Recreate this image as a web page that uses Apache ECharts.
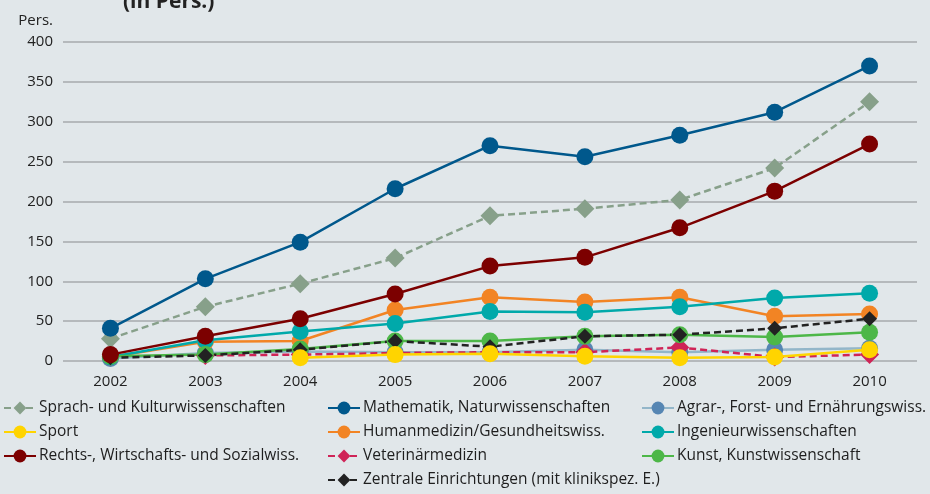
<!DOCTYPE html>
<html>
<head>
<meta charset="utf-8">
<script src="https://cdn.jsdelivr.net/npm/echarts@6/dist/echarts.min.js"></script>
<style>
  html, body { margin: 0; padding: 0; background: #e1e7ea; }
  #chart { width: 930px; height: 494px; }
</style>
</head>
<body>
<div id="chart"></div>
<script>
// Years on the x axis
const years = ['2002', '2003', '2004', '2005', '2006', '2007', '2008', '2009', '2010'];

// Persons per subject group and year
const sprachKultur   = [28, 68, 97, 129, 182, 191, 202, 242, 325];
const mathematik     = [41, 103, 149, 216, 270, 256, 283, 312, 370];
const agrar          = [3, 10, 12, 11, 11, 14, 11, 14, 16];
const sport          = [null, null, 4, 8, 9, 6, 4, 5, 14];
const humanmedizin   = [5, 24, 25, 64, 80, 74, 80, 56, 59];
const ingenieur      = [5, 26, 37, 47, 62, 61, 68, 79, 85];
const rechtsWiSo     = [8, 31, 53, 84, 119, 130, 167, 213, 272];
const veterinaer     = [null, 7, 8, 10, 11, 11, 17, 5, 8];
const kunst          = [6, 8, 15, 25, 25, 31, 33, 30, 36];
const zentrale       = [4, 7, 14, 25, 18, 31, 33, 41, 53];

// Y axis ticks
const yMax = 400;
const yStep = 50;

const FONT = 'Open Sans';

function line(name, data, color, opts) {
  opts = opts || {};
  return {
    name: name,
    type: 'line',
    data: data,
    symbol: opts.symbol || 'circle',
    symbolSize: opts.symbolSize || 17,
    connectNulls: false,
    itemStyle: { color: color },
    lineStyle: {
      color: opts.lineColor || color,
      width: 2.5,
      type: opts.dashed ? [7, 4] : 'solid'
    },
    emphasis: { disabled: true },
    z: opts.z || 2
  };
}

const series = [
  line('Sprach- und Kulturwissenschaften', sprachKultur, '#87a08a', { symbol: 'diamond', symbolSize: 19, dashed: true }),
  line('Mathematik, Naturwissenschaften', mathematik, '#00588c'),
  line('Agrar-, Forst- und Ernährungswiss.', agrar, '#5686b3', { lineColor: '#93b6c9' }),
  line('Sport', sport, '#ffd400', { z: 4 }),
  line('Humanmedizin/Gesundheitswiss.', humanmedizin, '#f28424'),
  line('Ingenieurwissenschaften', ingenieur, '#00a9aa'),
  line('Rechts-, Wirtschafts- und Sozialwiss.', rechtsWiSo, '#7c0000', { z: 3 }),
  line('Veterinärmedizin', veterinaer, '#cf2457', { symbol: 'diamond', symbolSize: 19, dashed: true }),
  line('Kunst, Kunstwissenschaft', kunst, '#4db748'),
  line('Zentrale Einrichtungen (mit klinikspez. E.)', zentrale, '#222222', { symbol: 'diamond', symbolSize: 15, dashed: true })
];

function legendCol(left, names) {
  return {
    orient: 'vertical',
    left: left,
    top: 400,
    itemWidth: 32,
    itemHeight: 16,
    itemGap: 8,
    padding: 0,
    data: names,
    selectedMode: false,
    textStyle: { fontFamily: FONT, fontSize: 15.5, color: '#1e1e1e', padding: [0, 0, 0, -2] }
  };
}

const chart = echarts.init(document.getElementById('chart'));
chart.setOption({
  backgroundColor: '#e1e7ea',
  animation: false,
  textStyle: { fontFamily: FONT },
  graphic: [{
    type: 'text',
    left: 123,
    top: -8,
    style: { text: '(in Pers.)', fontFamily: FONT, fontWeight: 'bold', fontSize: 21, fill: '#222' }
  }],
  grid: { left: 63, right: 13, top: 42, bottom: 133 },
  legend: [
    legendCol(3, ['Sprach- und Kulturwissenschaften', 'Sport', 'Rechts-, Wirtschafts- und Sozialwiss.']),
    legendCol(327, ['Mathematik, Naturwissenschaften', 'Humanmedizin/Gesundheitswiss.', 'Veterinärmedizin', 'Zentrale Einrichtungen (mit klinikspez. E.)']),
    legendCol(641, ['Agrar-, Forst- und Ernährungswiss.', 'Ingenieurwissenschaften', 'Kunst, Kunstwissenschaft'])
  ],
  xAxis: {
    type: 'category',
    data: years,
    boundaryGap: true,
    axisLine: { show: false },
    axisTick: { show: false },
    axisLabel: { fontFamily: FONT, fontSize: 15, color: '#222', margin: 13 }
  },
  yAxis: {
    type: 'value',
    min: 0,
    max: yMax,
    interval: yStep,
    name: 'Pers.',
    nameLocation: 'end',
    nameGap: 14,
    nameTextStyle: { fontFamily: FONT, fontSize: 15, color: '#222', align: 'right', padding: [0, 10, 0, 0] },
    axisLine: { show: false },
    axisTick: { show: false },
    axisLabel: { fontFamily: FONT, fontSize: 15, color: '#222', margin: 10 },
    splitLine: { lineStyle: { color: '#b5b9bc', width: 2 } }
  },
  series: series
});
</script>
</body>
</html>
